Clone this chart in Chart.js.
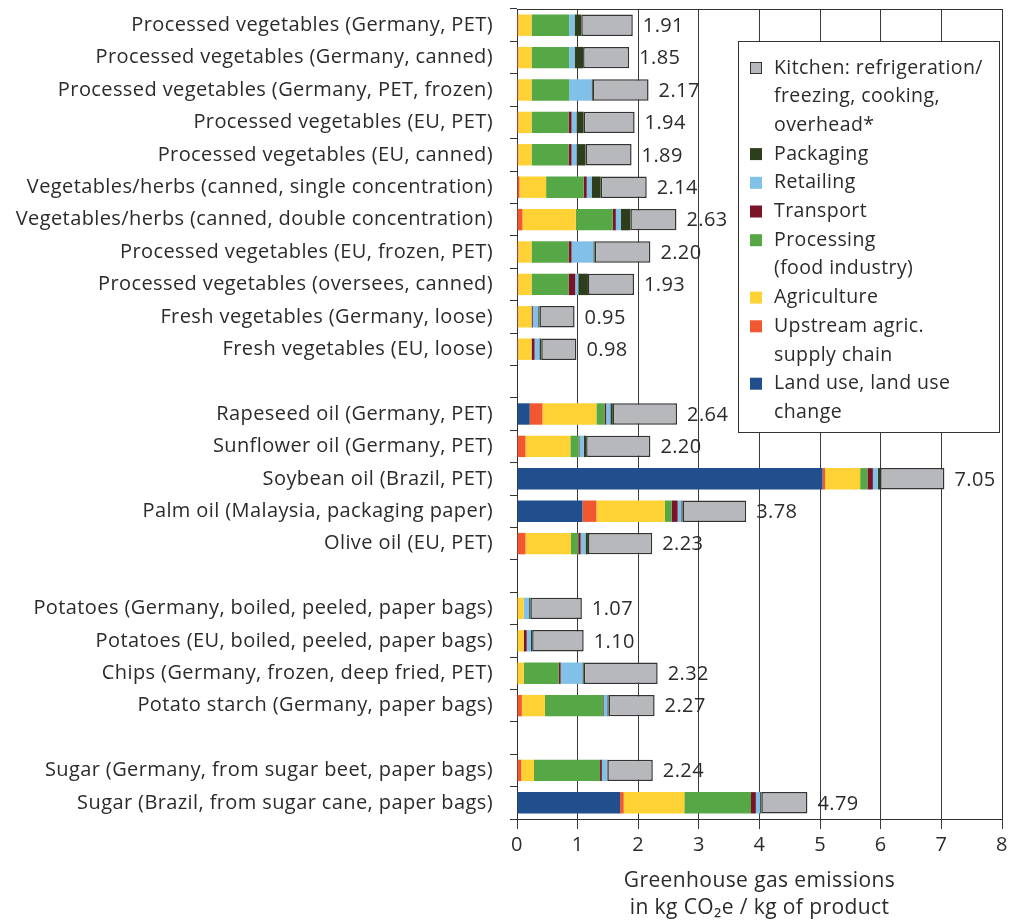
<!DOCTYPE html>
<html>
<head>
<meta charset="utf-8">
<script src="https://cdn.jsdelivr.net/npm/chart.js@4.4.0/dist/chart.umd.min.js"></script>
<style>
  html, body { margin: 0; padding: 0; background: #ffffff; }
  #wrap { width: 1024px; height: 923px; position: relative; }
</style>
</head>
<body>
<div id="wrap"><canvas id="c" width="1024" height="923"></canvas></div>
<script>
// ---------- DATA ----------
const categories = [
  'Processed vegetables (Germany, PET)',
  'Processed vegetables (Germany, canned)',
  'Processed vegetables (Germany, PET, frozen)',
  'Processed vegetables (EU, PET)',
  'Processed vegetables (EU, canned)',
  'Vegetables/herbs (canned, single concentration)',
  'Vegetables/herbs (canned, double concentration)',
  'Processed vegetables (EU, frozen, PET)',
  'Processed vegetables (oversees, canned)',
  'Fresh vegetables (Germany, loose)',
  'Fresh vegetables (EU, loose)',
  '',
  'Rapeseed oil (Germany, PET)',
  'Sunflower oil (Germany, PET)',
  'Soybean oil (Brazil, PET)',
  'Palm oil (Malaysia, packaging paper)',
  'Olive oil (EU, PET)',
  '',
  'Potatoes (Germany, boiled, peeled, paper bags)',
  'Potatoes (EU, boiled, peeled, paper bags)',
  'Chips (Germany, frozen, deep fried, PET)',
  'Potato starch (Germany, paper bags)',
  '',
  'Sugar (Germany, from sugar beet, paper bags)',
  'Sugar (Brazil, from sugar cane, paper bags)'
];

const landUse    = [0,0,0,0,0,0,0,0,0,0,0, null, 0.21,0,5.04,1.08,0, null, 0,0,0,0, null, 0,1.70];
const upstream   = [0.02,0.02,0.02,0.02,0.02,0.04,0.09,0.02,0.02,0.02,0.02, null, 0.21,0.14,0.04,0.23,0.14, null, 0.01,0.01,0,0.08, null, 0.07,0.06];
const agriculture= [0.22,0.22,0.22,0.22,0.22,0.44,0.88,0.22,0.22,0.22,0.22, null, 0.89,0.74,0.58,1.13,0.75, null, 0.10,0.10,0.11,0.38, null, 0.21,1.00];
const processing = [0.62,0.62,0.62,0.61,0.61,0.62,0.61,0.61,0.61,0,0, null, 0.14,0.14,0.12,0.11,0.12, null, 0,0,0.58,0.96, null, 1.09,1.10];
const transport  = [0,0,0,0.05,0.05,0.05,0.05,0.05,0.11,0.02,0.05, null, 0.02,0.01,0.09,0.10,0.04, null, 0,0.05,0.03,0.01, null, 0.03,0.08];
const retailing  = [0.09,0.09,0.37,0.08,0.08,0.08,0.08,0.36,0.05,0.09,0.08, null, 0.07,0.07,0.08,0.06,0.08, null, 0.09,0.07,0.36,0.06, null, 0.08,0.07];
const packaging  = [0.11,0.14,0.02,0.12,0.15,0.15,0.16,0.02,0.16,0.02,0.03, null, 0.04,0.04,0.04,0.02,0.04, null, 0.02,0.02,0.02,0.02, null, 0.01,0.02];
const kitchen    = [0.85,0.76,0.92,0.84,0.76,0.76,0.76,0.92,0.76,0.58,0.58, null, 1.06,1.06,1.06,1.05,1.06, null, 0.85,0.85,1.22,0.76, null, 0.75,0.76];
const totals     = [1.91,1.85,2.17,1.94,1.89,2.14,2.63,2.20,1.93,0.95,0.98, null, 2.64,2.20,7.05,3.78,2.23, null, 1.07,1.10,2.32,2.27, null, 2.24,4.79];

const xTicks = [0,1,2,3,4,5,6,7,8];
const xTitle = ['Greenhouse gas emissions', 'in kg CO\u2082e / kg of product'];

const seriesNames = [
  ['Land use, land use', 'change'],
  ['Upstream agric.', 'supply chain'],
  ['Agriculture'],
  ['Processing', '(food industry)'],
  ['Transport'],
  ['Retailing'],
  ['Packaging'],
  ['Kitchen: refrigeration/', 'freezing, cooking,', 'overhead*']
];
const seriesData = [landUse, upstream, agriculture, processing, transport, retailing, packaging, kitchen];
const seriesColors = ['#214f8e', '#f1582f', '#fed234', '#56a846', '#7a1429', '#80c0e9', '#2e3d1b', '#b6b8bb'];

// ---------- STYLE ----------
const FONT = '"Open Sans", Lato, sans-serif';
const TEXT = '#2b2b2b';
const LINE = '#333333';
const SPACING = '0.4px';

const datasets = seriesData.map((d, i) => ({
  label: seriesNames[i].join(' '),
  legendLines: seriesNames[i],
  data: d,
  backgroundColor: seriesColors[i],
  borderColor: i === 7 ? LINE : seriesColors[i],
  borderWidth: i === 7 ? 1.5 : 0,
  borderSkipped: false,
  barPercentage: 0.66,
  categoryPercentage: 1.0,
  stack: 's'
}));

const spacingPlugin = {
  id: 'spacing',
  beforeInit(chart) { chart.ctx.letterSpacing = SPACING; },
  beforeUpdate(chart) { chart.ctx.letterSpacing = SPACING; },
  beforeDraw(chart) { chart.ctx.letterSpacing = SPACING; }
};

const framePlugin = {
  id: 'frame',
  beforeDatasetsDraw(chart) {
    const {ctx, chartArea: a} = chart;
    ctx.save();
    ctx.strokeStyle = LINE;
    ctx.lineWidth = 1;
    ctx.strokeRect(Math.round(a.left) + 0.5, Math.round(a.top) + 0.5, Math.round(a.right - a.left), Math.round(a.bottom - a.top));
    ctx.restore();
  }
};

const totalsPlugin = {
  id: 'totals',
  afterDatasetsDraw(chart) {
    const {ctx} = chart;
    const xs = chart.scales.x, ys = chart.scales.y;
    ctx.save();
    ctx.font = '20px ' + FONT;
    ctx.fillStyle = TEXT;
    ctx.textAlign = 'left';
    ctx.textBaseline = 'middle';
    totals.forEach((t, i) => {
      if (t === null) return;
      let sum = 0;
      seriesData.forEach(s => { sum += (s[i] || 0); });
      const x = xs.getPixelForValue(sum) + 10;
      const y = ys.getPixelForValue(i);
      ctx.fillText(t.toFixed(2), x, y + 1);
    });
    ctx.restore();
  }
};

const legendPlugin = {
  id: 'boxLegend',
  afterDraw(chart) {
    const {ctx} = chart;
    const box = {x: 738, y: 41, w: 261, h: 391};
    ctx.save();
    ctx.fillStyle = '#ffffff';
    ctx.fillRect(box.x, box.y, box.w, box.h);
    ctx.strokeStyle = LINE;
    ctx.lineWidth = 1;
    ctx.strokeRect(box.x + 0.5, box.y + 0.5, box.w, box.h);
    ctx.font = '19.5px ' + FONT;
    ctx.textBaseline = 'middle';
    ctx.textAlign = 'left';
    const lh = 28.7;
    let y = 68;
    for (let i = chart.data.datasets.length - 1; i >= 0; i--) {
      const ds = chart.data.datasets[i];
      ctx.fillStyle = ds.backgroundColor;
      ctx.fillRect(750, y - 6, 12, 12);
      if (i === 7) {
        ctx.strokeStyle = LINE;
        ctx.lineWidth = 1;
        ctx.strokeRect(750.5, y - 5.5, 11, 11);
      }
      ctx.fillStyle = TEXT;
      ds.legendLines.forEach((ln, k) => {
        ctx.fillText(ln, 774, y + k * lh);
      });
      y += ds.legendLines.length * lh;
    }
    ctx.restore();
  }
};

new Chart(document.getElementById('c'), {
  type: 'bar',
  data: { labels: categories, datasets },
  plugins: [spacingPlugin, framePlugin, totalsPlugin, legendPlugin],
  options: {
    indexAxis: 'y',
    responsive: false,
    animation: false,
    devicePixelRatio: 1,
    layout: { padding: { top: 9, right: 22, left: 0, bottom: 0 } },
    plugins: { legend: { display: false }, tooltip: { enabled: false } },
    scales: {
      x: {
        type: 'linear',
        stacked: true,
        min: 0,
        max: 8,
        afterBuildTicks(scale) { scale.ticks = xTicks.map(v => ({value: v})); },
        afterFit(scale) { scale.height = 104; },
        ticks: { font: { family: FONT, size: 20 }, color: TEXT, padding: 4 },
        grid: { color: '#3a3a3a', lineWidth: 1, tickLength: 10, drawTicks: true },
        border: { color: LINE, width: 1 },
        title: {
          display: true,
          text: xTitle,
          color: TEXT,
          font: { family: FONT, size: 21, lineHeight: 1.3 },
          padding: { top: 0, bottom: 1 }
        }
      },
      y: {
        type: 'category',
        stacked: true,
        afterFit(scale) { scale.width = 517; scale.paddingTop = 0; scale.paddingBottom = 0; },
        ticks: { font: { family: FONT, size: 20 }, color: TEXT, padding: 17, autoSkip: false },
        grid: { drawOnChartArea: false, offset: true, tickLength: 7, color: LINE },
        border: { color: LINE, width: 1 }
      }
    }
  }
});
</script>
</body>
</html>
